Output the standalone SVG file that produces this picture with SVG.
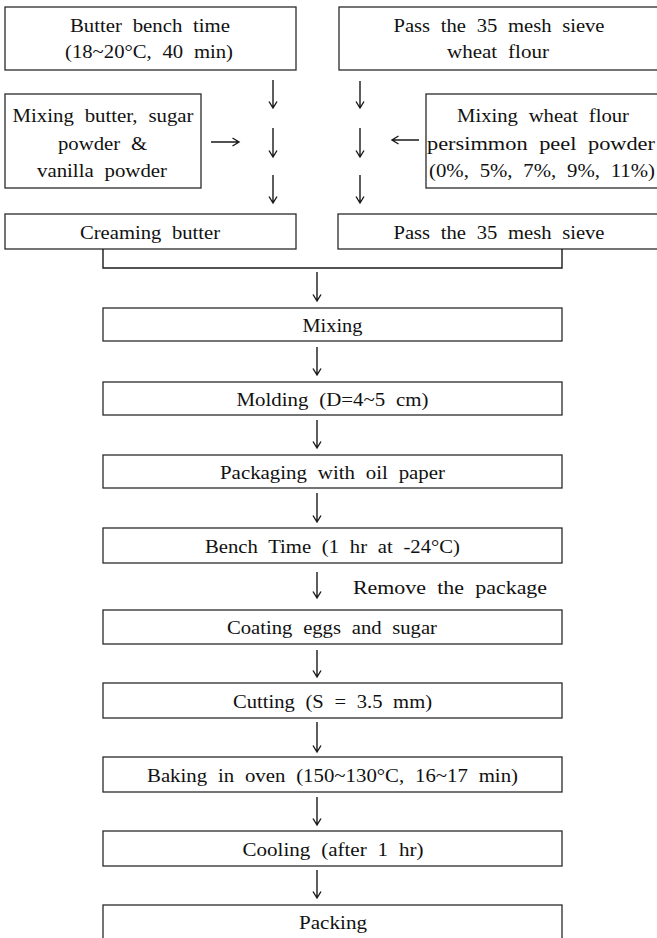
<svg xmlns="http://www.w3.org/2000/svg" width="657" height="938" viewBox="0 0 657 938">
<style>
rect.b{fill:#fff;stroke:#2a2a2a;stroke-width:1.3}
text{font-family:"Liberation Serif","Times New Roman",serif;font-size:18.6px;fill:#111;text-anchor:middle;word-spacing:5px}
.c line,.c path{stroke:#1a1a1a;stroke-width:1.4;fill:none}
</style>
<rect width="657" height="938" fill="#fff"/>
<g id="n-butter-bench"><rect class="b" x="5" y="7" width="291" height="63"/>
<text x="150" y="32" textLength="160" lengthAdjust="spacingAndGlyphs">Butter bench time</text>
<text x="149" y="58" textLength="168" lengthAdjust="spacingAndGlyphs">(18~20°C, 40 min)</text></g>
<g id="n-sieve-flour"><rect class="b" x="339" y="7" width="320" height="63"/>
<text x="499" y="32" textLength="211" lengthAdjust="spacingAndGlyphs">Pass the 35 mesh sieve</text>
<text x="498" y="58" textLength="102" lengthAdjust="spacingAndGlyphs">wheat flour</text></g>
<g id="n-mix-butter"><rect class="b" x="5" y="94" width="196" height="94"/>
<text x="103" y="122" textLength="181" lengthAdjust="spacingAndGlyphs">Mixing butter, sugar</text>
<text x="102.5" y="149.5" textLength="89" lengthAdjust="spacingAndGlyphs">powder &amp;</text>
<text x="102" y="177" textLength="130" lengthAdjust="spacingAndGlyphs">vanilla powder</text></g>
<g id="n-mix-flour"><rect class="b" x="426" y="94" width="233" height="94"/>
<text x="543" y="122" textLength="172" lengthAdjust="spacingAndGlyphs">Mixing wheat flour</text>
<text x="541" y="149.5" textLength="228" lengthAdjust="spacingAndGlyphs">persimmon peel powder</text>
<text x="542" y="177" textLength="226" lengthAdjust="spacingAndGlyphs">(0%, 5%, 7%, 9%, 11%)</text></g>
<g id="n-creaming"><rect class="b" x="5" y="214" width="291" height="35"/>
<text x="150" y="239" textLength="140" lengthAdjust="spacingAndGlyphs">Creaming butter</text></g>
<g id="n-sieve2"><rect class="b" x="338" y="214" width="321" height="35"/>
<text x="499" y="239" textLength="211" lengthAdjust="spacingAndGlyphs">Pass the 35 mesh sieve</text></g>
<g id="n-mixing"><rect class="b" x="103" y="308" width="459" height="33"/>
<text x="332.5" y="331.5" textLength="60" lengthAdjust="spacingAndGlyphs">Mixing</text></g>
<g id="n-molding"><rect class="b" x="103" y="382" width="459" height="33"/>
<text x="332.5" y="405.5" textLength="192" lengthAdjust="spacingAndGlyphs">Molding (D=4~5 cm)</text></g>
<g id="n-packaging"><rect class="b" x="103" y="455" width="459" height="33"/>
<text x="332.5" y="478.5" textLength="225" lengthAdjust="spacingAndGlyphs">Packaging with oil paper</text></g>
<g id="n-bench"><rect class="b" x="103" y="528" width="459" height="35"/>
<text x="332.5" y="552.5" textLength="255" lengthAdjust="spacingAndGlyphs">Bench Time (1 hr at -24°C)</text></g>
<g id="n-coating"><rect class="b" x="103" y="610" width="459" height="34"/>
<text x="332" y="634" textLength="210" lengthAdjust="spacingAndGlyphs">Coating eggs and sugar</text></g>
<g id="n-cutting"><rect class="b" x="103" y="683" width="459" height="35"/>
<text x="332.5" y="707.5" textLength="199" lengthAdjust="spacingAndGlyphs">Cutting (S = 3.5 mm)</text></g>
<g id="n-baking"><rect class="b" x="103" y="757" width="459" height="35"/>
<text x="332.5" y="781.5" textLength="371" lengthAdjust="spacingAndGlyphs">Baking in oven (150~130°C, 16~17 min)</text></g>
<g id="n-cooling"><rect class="b" x="103" y="831" width="459" height="35"/>
<text x="333" y="855.5" textLength="181" lengthAdjust="spacingAndGlyphs">Cooling (after 1 hr)</text></g>
<g id="n-packing"><rect class="b" x="103" y="905" width="459" height="45"/>
<text x="333" y="929" textLength="68" lengthAdjust="spacingAndGlyphs">Packing</text></g>
<g id="connectors" class="c">
<path d="M273 80V108M269 101.5L273 108L277 101.5"/>
<path d="M273 128V157M269 150.5L273 157L277 150.5"/>
<path d="M273 175V203M269 196.5L273 203L277 196.5"/>
<path d="M360 81V108M356 101.5L360 108L364 101.5"/>
<path d="M360 128V157M356 150.5L360 157L364 150.5"/>
<path d="M360 175V203M356 196.5L360 203L364 196.5"/>
<path d="M211 142H239M232.5 138L239 142L232.5 146"/>
<path d="M419 140H392M398.5 136L392 140L398.5 144"/>
<path d="M103 249V268H562V249"/>
<path d="M317 272V301M313 294.5L317 301L321 294.5"/>
<path d="M317 347V375M313 368.5L317 375L321 368.5"/>
<path d="M317 420V448M313 441.5L317 448L321 441.5"/>
<path d="M317 493V522M313 515.5L317 522L321 515.5"/>
<path d="M317 572V598M313 591.5L317 598L321 591.5"/>
<path d="M317 650V677M313 670.5L317 677L321 670.5"/>
<path d="M317 722V752M313 745.5L317 752L321 745.5"/>
<path d="M317 797V825M313 818.5L317 825L321 818.5"/>
<path d="M317 870V898M313 891.5L317 898L321 891.5"/>
</g>
<text x="450" y="594" textLength="194" lengthAdjust="spacingAndGlyphs">Remove the package</text>
</svg>
